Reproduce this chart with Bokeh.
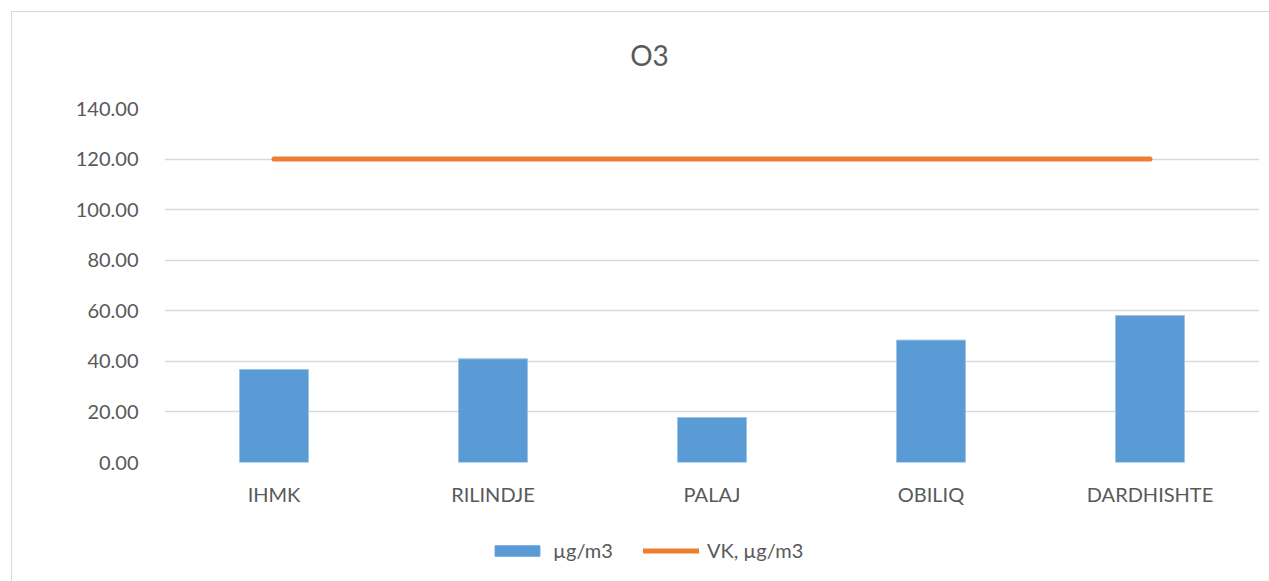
from bokeh.plotting import figure
from bokeh.layouts import column
from bokeh.models import ColumnDataSource, Legend, LegendItem, Label, NumeralTickFormatter, FixedTicker, Range1d
from bokeh.embed import file_html
from bokeh.resources import INLINE

categories = ["IHMK", "RILINDJE", "PALAJ", "OBILIQ", "DARDHISHTE"]
values = [36.8, 41.0, 17.8, 48.4, 58.1]
limit = [120, 120, 120, 120, 120]
y_ticks = [0, 20, 40, 60, 80, 100, 120, 140]

FONT = "Lato"
TXT = "#595959"
BAR = "#5B9BD5"
LINE = "#ED7D31"


def strip(h):
    f = figure(x_range=Range1d(0, 10), y_range=Range1d(0, 10), width=1258, height=h,
               output_backend="svg", toolbar_location=None,
               min_border_left=0, min_border_right=0, min_border_top=0, min_border_bottom=0)
    f.axis.visible = False
    f.grid.visible = False
    f.outline_line_color = None
    return f


# title strip
p0 = strip(80)
p0.add_layout(Label(x=485, y=38, x_units="screen", y_units="screen", text="O3",
                    text_font=FONT, text_font_size="28px", text_color=TXT,
                    text_align="center", text_baseline="middle"))

p = figure(x_range=categories, y_range=Range1d(0, 140), width=1258, height=428,
           output_backend="svg", toolbar_location=None,
           min_border_left=152, min_border_right=11, min_border_top=16, min_border_bottom=58)
p.outline_line_color = None
p.x_range.range_padding = 0

src = ColumnDataSource(dict(x=categories, v=values, lim=limit))
p.vbar(x="x", top="v", width=0.315, source=src, fill_color=BAR, line_color="#9DC3E6", line_width=1)
p.line(x="x", y="lim", source=src, line_color=LINE, line_width=5, line_cap="round")

p.yaxis.ticker = FixedTicker(ticks=y_ticks)
p.yaxis.formatter = NumeralTickFormatter(format="0.00")
for ax in (p.xaxis, p.yaxis):
    ax.axis_line_color = None
    ax.major_tick_line_color = None
    ax.minor_tick_line_color = None
    ax.major_label_text_font = FONT
    ax.major_label_text_font_size = "20px"
    ax.major_label_text_color = TXT
p.yaxis.major_label_standoff = 20
p.xaxis.major_label_standoff = 13
p.xgrid.grid_line_color = None
p.ygrid.grid_line_color = "#d9d9d9"
p.ygrid.grid_line_width = 1.5

# legend strip (its renderers sit outside the visible range; only the legend shows)
p2 = strip(62)
lb = p2.vbar(x=[-100], top=[-50], width=1, fill_color=BAR, line_color=BAR)
ll = p2.line(x=[-100, -90], y=[-50, -50], line_color=LINE, line_width=5, line_cap="round")
legend = Legend(items=[LegendItem(label="µg/m3", renderers=[lb]),
                       LegendItem(label="VK, µg/m3", renderers=[ll])],
                orientation="horizontal", location=(325, 20),
                label_text_font=FONT, label_text_font_size="20px", label_text_color=TXT,
                glyph_width=56, glyph_height=13, label_standoff=8, spacing=30,
                border_line_color=None, background_fill_alpha=0, padding=0, margin=0)
p2.add_layout(legend, "center")

layout = column(p0, p, p2, spacing=0)
layout.margin = (11, 0, 0, 11)
layout.styles = {"border": "1px solid #d9d9d9"}

open("out.html", "w").write(file_html(layout, INLINE))
